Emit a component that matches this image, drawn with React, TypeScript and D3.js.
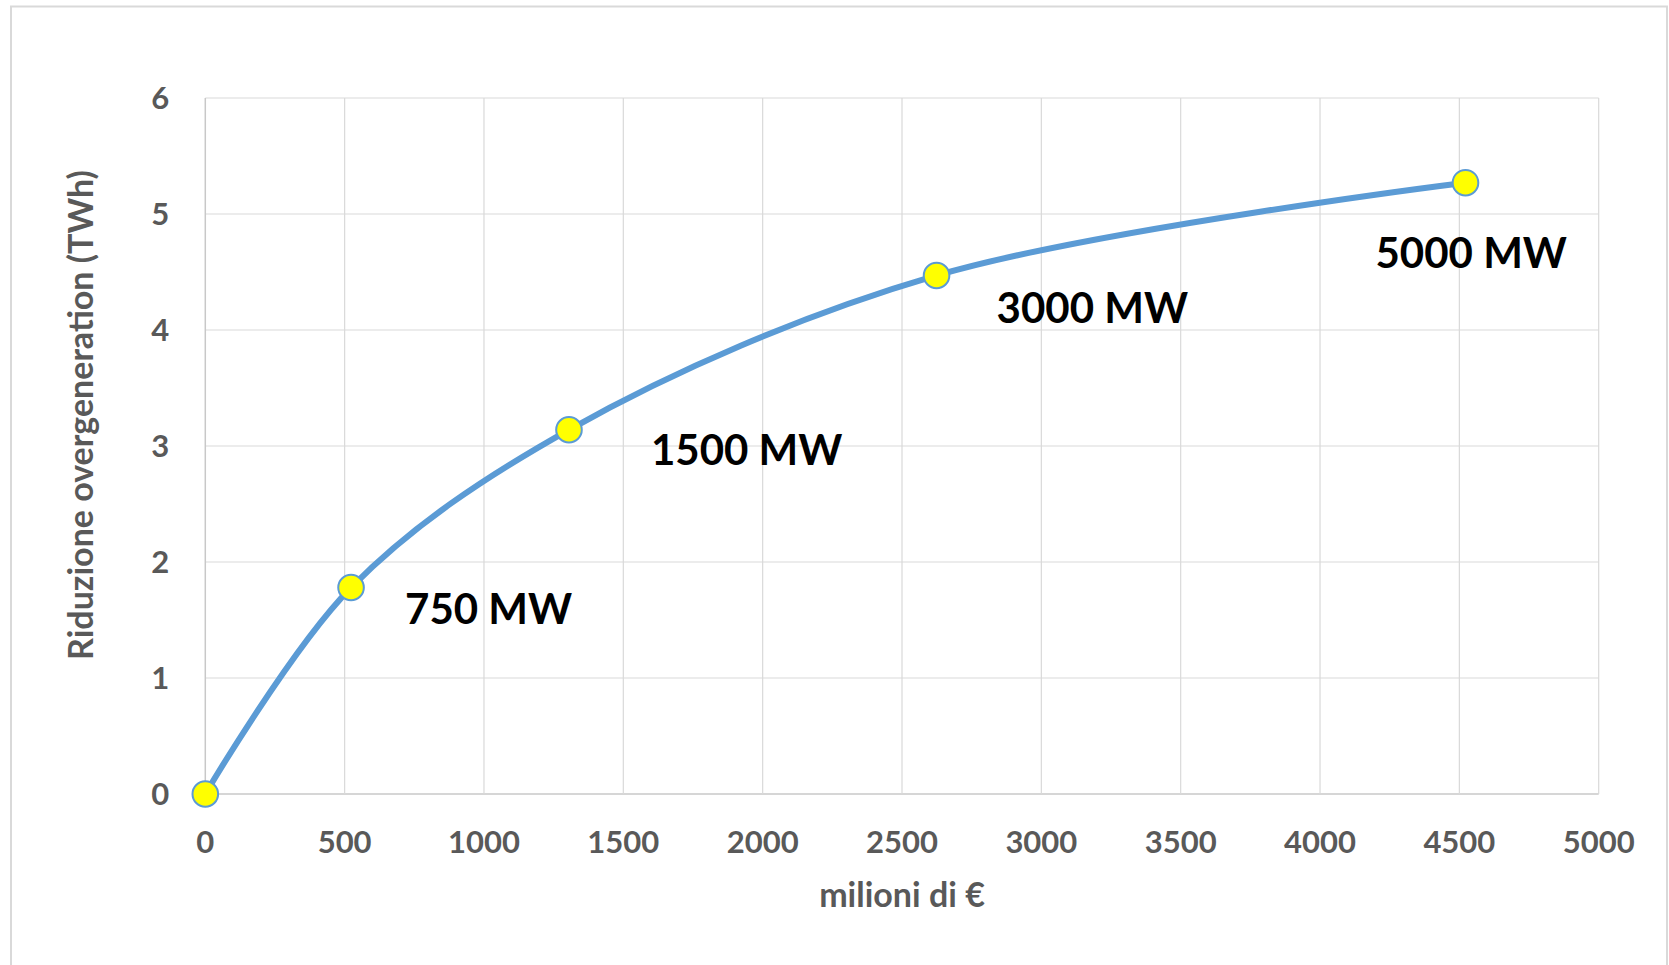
import React from "react";
import * as d3 from "d3";

// ---- data ----
const costs = [0, 523, 1305, 2624, 4522]; // milioni di €
const reductions = [0, 1.78, 3.14, 4.47, 5.27]; // TWh
const capacityLabels = ["", "750 MW", "1500 MW", "3000 MW", "5000 MW"];
const xTicks = [0, 500, 1000, 1500, 2000, 2500, 3000, 3500, 4000, 4500, 5000];
const yTicks = [0, 1, 2, 3, 4, 5, 6];
const xTitle = "milioni di €";
const yTitle = "Riduzione overgeneration (TWh)";

// ---- layout / style (not data) ----
const W = 1669;
const H = 965;
const plot = { left: 205.3, right: 1598.7, top: 98, bottom: 794 };
const labelOffsets: [number, number][] = [
  [0, 0],
  [54, 36],
  [82, 35],
  [60, 48],
  [-90, 85],
];
const FONT = "Lato, 'Open Sans', sans-serif";
const GREY = "#595959";
const GRID = "#D9D9D9";
const LINE = "#5B9BD5";

export default function App() {
  const x = d3.scaleLinear().domain([0, 5000]).range([plot.left, plot.right]);
  const y = d3.scaleLinear().domain([0, 6]).range([plot.bottom, plot.top]);
  const pts = costs.map((c, i) => [c, reductions[i]] as [number, number]);
  const line = d3
    .line<[number, number]>()
    .x((d) => x(d[0]))
    .y((d) => y(d[1]))
    .curve(d3.curveCatmullRom.alpha(0.5));

  return (
    <svg
      width={W}
      height={H}
      style={{ position: "absolute", left: 0, top: 0, background: "#fff" }}
    >
      <rect x={0} y={0} width={W} height={H} fill="#fff" />
      {/* outer chart border */}
      <rect
        x={11}
        y={6.5}
        width={1656}
        height={1000}
        fill="none"
        stroke={GRID}
        strokeWidth={2}
      />
      {/* gridlines */}
      {yTicks.map((t) => (
        <line
          key={"gy" + t}
          x1={plot.left}
          x2={plot.right}
          y1={y(t)}
          y2={y(t)}
          stroke={t === 0 ? "#C8C8C8" : GRID}
          strokeWidth={t === 0 ? 1.5 : 1.2}
        />
      ))}
      {xTicks.map((t) => (
        <line
          key={"gx" + t}
          x1={x(t)}
          x2={x(t)}
          y1={plot.top}
          y2={plot.bottom}
          stroke={t === 0 ? "#C8C8C8" : GRID}
          strokeWidth={t === 0 ? 1.5 : 1.2}
        />
      ))}
      {/* tick labels */}
      {yTicks.map((t) => (
        <text
          key={"ly" + t}
          x={plot.left - 36}
          y={y(t)}
          dy="0.36em"
          textAnchor="end"
          fontFamily={FONT}
          fontWeight={700}
          fontSize={31}
          fill={GREY}
        >
          {t}
        </text>
      ))}
      {xTicks.map((t) => (
        <text
          key={"lx" + t}
          x={x(t)}
          y={853}
          textAnchor="middle"
          fontFamily={FONT}
          fontWeight={700}
          fontSize={31}
          fill={GREY}
        >
          {t}
        </text>
      ))}
      {/* axis titles */}
      <text
        x={(plot.left + plot.right) / 2}
        y={907}
        textAnchor="middle"
        fontFamily={FONT}
        fontWeight={700}
        fontSize={34}
        fill={GREY}
      >
        {xTitle}
      </text>
      <text
        transform={`translate(93,415) rotate(-90)`}
        textAnchor="middle"
        fontFamily={FONT}
        fontWeight={700}
        fontSize={34}
        fill={GREY}
      >
        {yTitle}
      </text>
      {/* series line */}
      <path
        d={line(pts) || ""}
        fill="none"
        stroke={LINE}
        strokeWidth={6}
        strokeLinecap="round"
        strokeLinejoin="round"
      />
      {/* markers */}
      {pts.map((p, i) => (
        <circle
          key={"m" + i}
          cx={x(p[0])}
          cy={y(p[1])}
          r={12.8}
          fill="#FFFF00"
          stroke={LINE}
          strokeWidth={2}
        />
      ))}
      {/* capacity labels */}
      {pts.map((p, i) =>
        capacityLabels[i] ? (
          <text
            key={"cl" + i}
            x={x(p[0]) + labelOffsets[i][0]}
            y={y(p[1]) + labelOffsets[i][1]}
            fontFamily={FONT}
            fontWeight={700}
            fontSize={42}
            fill="#000"
          >
            {capacityLabels[i]}
          </text>
        ) : null
      )}
    </svg>
  );
}
